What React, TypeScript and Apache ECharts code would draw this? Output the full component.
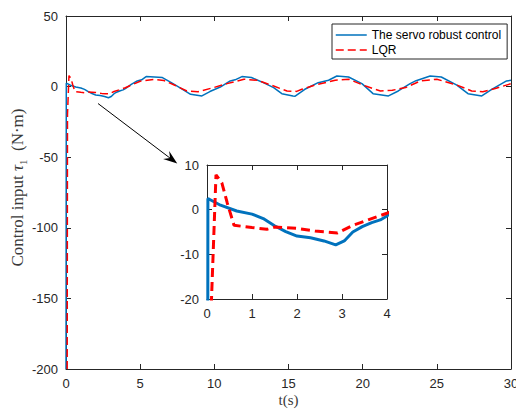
import React, { useEffect, useRef } from 'react';
import * as echarts from 'echarts';

const seriesNames = ['The servo robust control', 'LQR'];

// [t (s), torque (N·m)]
const servoRobust: number[][] = [
  [0, -200], [0.02, 2.5], [0.3, 1.0], [0.66, -0.3], [1.0, -1.0], [1.25, -2.0], [1.5, -3.6],
  [1.75, -4.9], [2.0, -5.9], [2.3, -6.3], [2.6, -7.0], [2.86, -7.9], [3.05, -7.0], [3.24, -5.0],
  [3.45, -3.8], [3.66, -2.9], [3.85, -2.3], [4.0, -1.4], [4.4, 1.6], [4.8, 4.0], [5.1, 4.8],
  [5.4, 7.1], [5.95, 6.8], [6.5, 6.4], [7.1, 2.8], [7.75, -1.2], [8.4, -5.5], [9.16, -6.6],
  [9.7, -3.5], [10.4, -0.3], [11.07, 4.0], [11.4, 4.8], [11.86, 7.1], [12.5, 6.4], [13.3, 2.8],
  [14.0, -0.7], [14.55, -5.0], [15.3, -6.6], [15.45, -6.8], [16.1, -1.9], [17.0, 2.8], [17.7, 4.5],
  [18.26, 7.5], [19.05, 6.8], [19.95, 2.1], [20.7, -5.0], [21.74, -6.6], [22.4, -3.1], [23.2, 2.1],
  [23.6, 4.2], [24.55, 7.5], [25.3, 6.8], [26.35, 1.1], [27.1, -5.0], [28.03, -6.6], [28.7, -1.9],
  [29.7, 4.0], [30, 4.5],
];

const lqr: number[][] = [
  [0.08, -200], [0.1, -20], [0.2, 7.8], [0.33, 6.0], [0.45, 1.5], [0.6, -3.5], [1.0, -4.0],
  [1.33, -4.4], [1.5, -3.9], [2.0, -4.2], [2.4, -4.8], [2.66, -5.0], [2.9, -5.2], [3.24, -3.5],
  [3.58, -2.3], [4.0, -0.8], [4.4, 1.1], [5.0, 3.8], [5.95, 5.2], [6.6, 4.3], [7.3, 1.1],
  [8.15, -3.1], [8.9, -3.6], [9.95, -0.7], [10.85, 2.1], [12.0, 5.2], [12.9, 4.5], [14.0, 0.4],
  [14.9, -3.1], [15.55, -3.4], [15.9, -1.9], [16.8, 1.1], [18.15, 4.5], [19.05, 5.2], [20.2, 0.4],
  [21.2, -3.1], [22.0, -2.6], [22.9, -0.7], [23.9, 4.0], [25.0, 5.2], [26.35, 1.1], [27.35, -3.1],
  [28.1, -3.6], [29.0, -1.2], [30, 2.1],
];

const mainX = { min: 0, max: 30, interval: 5 };
const mainY = { min: -200, max: 50, interval: 50 };
const insetX = { min: 0, max: 4, interval: 1 };
const insetY = { min: -20, max: 10, interval: 10 };

// arrow endpoints in main-axis data coordinates
const arrowFrom = [2.16, -12];
const arrowTo = [7.5, -54.5];

const AX = '#262626';
const FONT = "'Liberation Sans', Arial, sans-serif";
const SERIF = "'Liberation Serif', 'DejaVu Serif', serif";

function axisBase(show: boolean) {
  return {
    type: 'value' as const,
    axisLine: { show: true, onZero: false, lineStyle: { color: AX, width: 1 } },
    axisTick: { show: true, inside: true, length: 5, lineStyle: { color: AX, width: 1 } },
    axisLabel: { show, color: AX, fontSize: 13, fontFamily: FONT, margin: show ? 8 : 0 },
    splitLine: { show: false },
  };
}

export default function App() {
  const ref = useRef<HTMLDivElement>(null);
  useEffect(() => {
    if (!ref.current) return;
    const chart = echarts.init(ref.current, undefined, { renderer: 'svg' });
    const blue = '#0072BD';
    const red = '#FF0000';
    const labelGrey = '#3a3a3a';
    chart.setOption({
      animation: false,
      backgroundColor: '#ffffff',
      grid: [
        { left: 66, right: 5, top: 16, bottom: 41, containLabel: false, outerBoundsMode: 'none' },
        { left: 207, top: 165, width: 180, height: 134, containLabel: false, outerBoundsMode: 'none', show: true, backgroundColor: '#fff', borderWidth: 0 },
      ],
      xAxis: [
        { ...axisBase(true), gridIndex: 0, ...mainX, position: 'bottom',
          name: 't(s)', nameLocation: 'middle', nameGap: 23, nameMoveOverlap: false,
          nameTextStyle: { color: labelGrey, fontSize: 15, fontFamily: SERIF } },
        { ...axisBase(false), gridIndex: 0, ...mainX, position: 'top' },
        { ...axisBase(true), gridIndex: 1, ...insetX, position: 'bottom' },
        { ...axisBase(false), gridIndex: 1, ...insetX, position: 'top' },
      ],
      yAxis: [
        { ...axisBase(true), gridIndex: 0, ...mainY, position: 'left',
          name: '{a|Control input }{g|τ}{s|1}{a|  (N·m)}', nameLocation: 'middle', nameGap: 38,
          nameMoveOverlap: false,
          nameTextStyle: {
            color: labelGrey, fontFamily: SERIF, fontSize: 17, padding: [0, 0, 0, 10],
            rich: {
              a: { fontSize: 17, fontFamily: SERIF, color: labelGrey, lineHeight: 22, verticalAlign: 'middle' },
              g: { fontSize: 17, fontFamily: SERIF, fontStyle: 'italic', color: labelGrey, lineHeight: 22, verticalAlign: 'middle' },
              s: { fontSize: 11, fontFamily: SERIF, color: labelGrey, lineHeight: 12, verticalAlign: 'bottom' },
            },
          } },
        { ...axisBase(false), gridIndex: 0, ...mainY, position: 'right' },
        { ...axisBase(true), gridIndex: 1, ...insetY, position: 'left' },
        { ...axisBase(false), gridIndex: 1, ...insetY, position: 'right' },
      ],
      legend: {
        data: seriesNames,
        orient: 'vertical',
        left: 332,
        top: 24,
        itemWidth: 31,
        itemHeight: 14,
        itemGap: 3,
        padding: [5, 6, 3, 3],
        backgroundColor: '#fff',
        borderColor: AX,
        borderWidth: 1,
        borderRadius: 0,
        itemStyle: { opacity: 0 },
        lineStyle: { width: 1.5 },
        textStyle: { color: '#000', fontSize: 12, fontFamily: FONT },
      },
      series: [
        { name: seriesNames[0], type: 'line', xAxisIndex: 0, yAxisIndex: 0, data: servoRobust,
          showSymbol: false, symbol: 'none', lineStyle: { color: blue, width: 1.5 }, itemStyle: { color: blue }, z: 3 },
        { name: seriesNames[1], type: 'line', xAxisIndex: 0, yAxisIndex: 0, data: lqr,
          showSymbol: false, symbol: 'none', lineStyle: { color: red, width: 1.5, type: [8, 4] }, itemStyle: { color: red }, z: 4 },
        { name: seriesNames[0], type: 'line', xAxisIndex: 2, yAxisIndex: 2, data: servoRobust,
          showSymbol: false, symbol: 'none', clip: true, lineStyle: { color: blue, width: 3 }, itemStyle: { color: blue }, z: 5 },
        { name: seriesNames[1], type: 'line', xAxisIndex: 2, yAxisIndex: 2, data: lqr,
          showSymbol: false, symbol: 'none', clip: true, lineStyle: { color: red, width: 3, type: [9, 5] }, itemStyle: { color: red }, z: 6 },
      ],
    });

    const p0 = chart.convertToPixel({ xAxisIndex: 0, yAxisIndex: 0 }, arrowFrom) as number[];
    const p1 = chart.convertToPixel({ xAxisIndex: 0, yAxisIndex: 0 }, arrowTo) as number[];
    const dx = p1[0] - p0[0];
    const dy = p1[1] - p0[1];
    const len = Math.sqrt(dx * dx + dy * dy);
    const ux = dx / len;
    const uy = dy / len;
    const hl = 14;
    const hw = 5;
    const notch = 9;
    const base = [p1[0] - ux * hl, p1[1] - uy * hl];
    const nb = [p1[0] - ux * notch, p1[1] - uy * notch];
    chart.setOption({
      graphic: [
        { type: 'line', z: 50, shape: { x1: p0[0], y1: p0[1], x2: nb[0], y2: nb[1] }, style: { stroke: '#000', lineWidth: 1 } },
        { type: 'polygon', z: 50, shape: { points: [
          [p1[0], p1[1]],
          [base[0] - uy * hw, base[1] + ux * hw],
          [nb[0], nb[1]],
          [base[0] + uy * hw, base[1] - ux * hw],
        ] }, style: { fill: '#000' } },
      ],
    });
    return () => chart.dispose();
  }, []);
  return <div ref={ref} style={{ position: 'fixed', left: 0, top: 0, width: 516, height: 410 }} />;
}
